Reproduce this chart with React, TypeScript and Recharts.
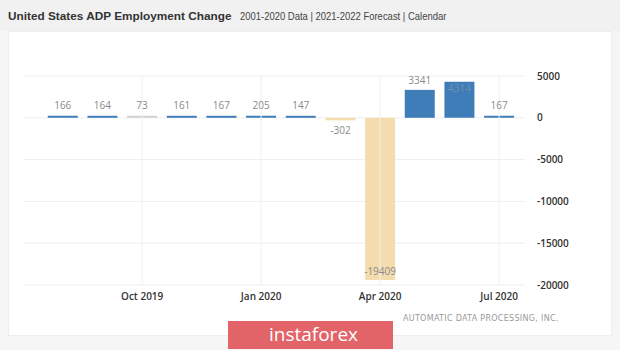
import React from "react";
import {
  Bar,
  BarChart,
  CartesianGrid,
  Cell,
  LabelList,
  ReferenceLine,
  XAxis,
  YAxis,
} from "recharts";

// ADP monthly change, thousands of jobs (Aug 2019 .. Jul 2020)
const months = [
  "Aug 2019",
  "Sep 2019",
  "Oct 2019",
  "Nov 2019",
  "Dec 2019",
  "Jan 2020",
  "Feb 2020",
  "Mar 2020",
  "Apr 2020",
  "May 2020",
  "Jun 2020",
  "Jul 2020",
];
const changes = [166, 164, 73, 161, 167, 205, 147, -302, -19409, 3341, 4314, 167];
const monthTicks = ["Oct 2019", "Jan 2020", "Apr 2020", "Jul 2020"];
const valueTicks = [5000, 0, -5000, -10000, -15000, -20000];
const mutedMonths = ["Oct 2019"];

const data = months.map((month, i) => ({ month, value: changes[i] }));

const PLOT_TOP = 76;
const PLOT_BOTTOM = 285;

const barColor = (month: string, value: number) => {
  if (mutedMonths.includes(month)) return "#d2d2d2";
  return value < 0 ? "#f4dcae" : "#3f7db8";
};

// value labels: above positive bars, below negative ones, tucked inside when
// there's no room left at the edge of the plot
function ValueLabel(props: any) {
  const { x, y, width, height, value } = props;
  const cx = x + width / 2;
  const top = Math.min(y, y + height);
  const bottom = Math.max(y, y + height);
  let ty: number;
  let fill = "#8a8a8a";
  if (value >= 0) {
    if (top - 9 < PLOT_TOP) {
      ty = top + 8;
      fill = "#6f8fae";
    } else {
      ty = top - 9;
    }
  } else {
    ty = bottom + 12 > PLOT_BOTTOM ? bottom - 8 : bottom + 11;
  }
  return (
    <text
      x={cx}
      y={ty}
      textAnchor="middle"
      dominantBaseline="middle"
      fontSize={10}
      fontFamily="'Open Sans', sans-serif"
      fill={fill}
    >
      {value}
    </text>
  );
}

export default function App() {
  return (
    <div
      style={{
        position: "absolute",
        left: 0,
        top: 0,
        width: 620,
        height: 350,
        background: "#f6f6f6",
        overflow: "hidden",
      }}
    >
      <div
        style={{
          position: "absolute",
          left: 0,
          top: 0,
          width: 620,
          height: 31,
          background: "#f1f1f1",
          display: "flex",
          alignItems: "center",
          paddingLeft: 8,
          boxSizing: "border-box",
          whiteSpace: "nowrap",
        }}
      >
        <span
          style={{
            fontFamily: "'Liberation Sans', Arial, sans-serif",
            fontWeight: "bold",
            fontSize: 11.8,
            color: "#333",
          }}
        >
          United States ADP Employment Change
        </span>
        <span
          style={{
            display: "inline-block",
            fontFamily: "'Liberation Sans', Arial, sans-serif",
            fontSize: 11,
            color: "#444",
            marginLeft: 8,
            transform: "scaleX(0.86)",
            transformOrigin: "left center",
          }}
        >
          2001-2020 Data | 2021-2022 Forecast | Calendar
        </span>
      </div>

      <div
        style={{
          position: "absolute",
          left: 8,
          top: 31,
          width: 604,
          height: 305,
          background: "#fff",
          border: "1px solid #eeeeee",
          boxSizing: "border-box",
        }}
      />

      <div style={{ position: "absolute", left: 0, top: 0 }}>
        <BarChart
          width={620}
          height={310}
          data={data}
          margin={{ top: PLOT_TOP, right: 45, left: 24, bottom: 0 }}
          barCategoryGap="12%"
        >
          <CartesianGrid stroke="#efefef" vertical={false} />
          {monthTicks.map((m) => (
            <ReferenceLine key={m} x={m} stroke="#f0f0f0" />
          ))}
          <XAxis
            dataKey="month"
            ticks={monthTicks}
            height={25}
            padding={{ left: 19, right: 6 }}
            axisLine={false}
            tickLine={false}
            tickMargin={2}
            tick={{
              fontSize: 10,
              fontWeight: 600,
              fill: "#333",
              fontFamily: "'Open Sans', sans-serif",
            }}
          />
          <YAxis
            orientation="right"
            width={50}
            domain={[-20000, 5000]}
            ticks={valueTicks}
            axisLine={false}
            tickLine={false}
            tickMargin={6}
            tick={{
              fontSize: 10,
              fontWeight: 600,
              fill: "#333",
              fontFamily: "'Open Sans', sans-serif",
              textAnchor: "start",
            }}
          />
          <Bar dataKey="value" minPointSize={2} isAnimationActive={false}>
            {data.map((d) => (
              <Cell key={d.month} fill={barColor(d.month, d.value)} />
            ))}
            <LabelList dataKey="value" content={<ValueLabel />} />
          </Bar>
        </BarChart>
      </div>

      <div
        style={{
          position: "absolute",
          left: 403,
          top: 314,
          fontFamily: "'DejaVu Sans', sans-serif",
          fontSize: 8,
          color: "#9a9a9a",
          letterSpacing: 0.3,
          whiteSpace: "nowrap",
        }}
      >
        AUTOMATIC DATA PROCESSING, INC.
      </div>

      <div
        style={{
          position: "absolute",
          left: 228,
          top: 321,
          width: 165,
          height: 28,
          background: "#e26468",
          color: "#fff",
          fontFamily: "'Open Sans', sans-serif",
          fontSize: 19,
          lineHeight: "27px",
          textAlign: "center",
          boxSizing: "border-box",
          paddingLeft: 6,
        }}
      >
        instaforex
      </div>
    </div>
  );
}
